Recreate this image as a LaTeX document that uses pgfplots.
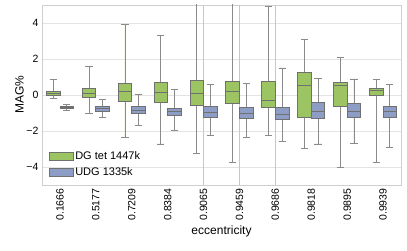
\documentclass[border=0pt]{standalone}
\usepackage{pgfplots}
\pgfplotsset{compat=1.18}
\usepgfplotslibrary{statistics}
\usepackage{fontspec}
\setmainfont{Liberation Sans}
\definecolor{dggreen}{HTML}{9CC462}
\definecolor{udgblue}{HTML}{8D9DC5}
\definecolor{boxgray}{HTML}{707070}
\definecolor{whiskgray}{HTML}{8A8A8A}
\definecolor{hlorange}{HTML}{F2BE86}
\definecolor{gridgray}{HTML}{E3E3E3}
\definecolor{framegray}{HTML}{CFCFCF}
\pgfplotsset{
  dgbox/.style={fill=dggreen, draw=boxgray, line width=0.8pt, solid, mark=none},
  udgbox/.style={fill=udgblue, draw=boxgray, line width=0.8pt, solid, mark=none},
}
\begin{document}
\begin{tikzpicture}
\begin{axis}[
  scale only axis,
  width=359pt, height=180pt,
  xmin=-0.5, xmax=9.5, ymin=-5, ymax=5,
  xtick={0,...,9},
  xticklabels={0.1666,0.5177,0.7209,0.8384,0.9065,0.9459,0.9686,0.9818,0.9895,0.9939},
  xticklabel style={rotate=90, anchor=east, font=\fontsize{10.5}{12}\selectfont},
  extra x ticks={4,5,6},
  extra x tick labels={},
  extra x tick style={grid=major, major grid style={draw=hlorange, line width=1.4pt}},
  ytick={-4,-2,0,2,4},
  yticklabels={−4,−2,0,2,4},
  yticklabel style={font=\fontsize{10.5}{12}\selectfont},
  tick style={draw=none},
  xmajorgrids=false,
  ymajorgrids=true, y grid style={gridgray, line width=0.8pt},
  axis line style={framegray, line width=0.8pt},
  xlabel={eccentricity}, ylabel={MAG\%},
  label style={font=\fontsize{12}{14}\selectfont},
  xlabel style={yshift=2pt},
  ylabel style={yshift=-4pt},
  boxplot/draw direction=y,
  boxplot/box extend=0.38,
  boxplot/whisker extend=0.2,
  boxplot/every whisker/.style={draw=whiskgray, line width=0.8pt},
  legend style={draw=none, fill=none, at={(0.01,0.02)}, anchor=south west,
    font=\fontsize{11}{13}\selectfont, row sep=3pt},
  legend cell align=left,
  clip=true,
]
\addlegendimage{legend image code/.code={\draw[fill=dggreen, draw=boxgray, line width=0.5pt] (0pt,-4pt) rectangle (24pt,4pt);}}
\addlegendentry{DG tet 1447k}
\addlegendimage{legend image code/.code={\draw[fill=udgblue, draw=boxgray, line width=0.5pt] (0pt,-4pt) rectangle (24pt,4pt);}}
\addlegendentry{UDG 1335k}

% DG tet 1447k (green)
\addplot[dgbox, forget plot, boxplot prepared={draw position=-0.19, lower whisker=-0.18, lower quartile=0.00, median=0.10, upper quartile=0.20, upper whisker=0.86}] coordinates {};
\addplot[dgbox, forget plot, boxplot prepared={draw position=0.81, lower whisker=-1.05, lower quartile=-0.16, median=0.10, upper quartile=0.36, upper whisker=1.60}] coordinates {};
\addplot[dgbox, forget plot, boxplot prepared={draw position=1.81, lower whisker=-2.38, lower quartile=-0.33, median=0.18, upper quartile=0.63, upper whisker=3.92}] coordinates {};
\addplot[dgbox, forget plot, boxplot prepared={draw position=2.81, lower whisker=-2.72, lower quartile=-0.40, median=0.14, upper quartile=0.68, upper whisker=3.30}] coordinates {};
\addplot[dgbox, forget plot, boxplot prepared={draw position=3.81, lower whisker=-3.26, lower quartile=-0.60, median=0.07, upper quartile=0.83, upper whisker=6.50}] coordinates {};
\addplot[dgbox, forget plot, boxplot prepared={draw position=4.81, lower whisker=-3.74, lower quartile=-0.49, median=0.20, upper quartile=0.74, upper whisker=6.20}] coordinates {};
\addplot[dgbox, forget plot, boxplot prepared={draw position=5.81, lower whisker=-2.23, lower quartile=-0.70, median=-0.29, upper quartile=0.76, upper whisker=4.93}] coordinates {};
\addplot[dgbox, forget plot, boxplot prepared={draw position=6.81, lower whisker=-2.98, lower quartile=-1.22, median=0.53, upper quartile=1.24, upper whisker=3.09}] coordinates {};
\addplot[dgbox, forget plot, boxplot prepared={draw position=7.81, lower whisker=-4.04, lower quartile=-0.66, median=0.51, upper quartile=0.72, upper whisker=2.10}] coordinates {};
\addplot[dgbox, forget plot, boxplot prepared={draw position=8.81, lower whisker=-3.74, lower quartile=-0.05, median=0.25, upper quartile=0.38, upper whisker=0.87}] coordinates {};

% UDG 1335k (blue)
\addplot[udgbox, forget plot, boxplot prepared={draw position=0.19, lower whisker=-0.87, lower quartile=-0.76, median=-0.71, upper quartile=-0.66, upper whisker=-0.55}] coordinates {};
\addplot[udgbox, forget plot, boxplot prepared={draw position=1.19, lower whisker=-1.24, lower quartile=-0.90, median=-0.76, upper quartile=-0.64, upper whisker=-0.27}] coordinates {};
\addplot[udgbox, forget plot, boxplot prepared={draw position=2.19, lower whisker=-1.69, lower quartile=-1.00, median=-0.83, upper quartile=-0.64, upper whisker=0.05}] coordinates {};
\addplot[udgbox, forget plot, boxplot prepared={draw position=3.19, lower whisker=-1.99, lower quartile=-1.11, median=-0.92, upper quartile=-0.72, upper whisker=0.29}] coordinates {};
\addplot[udgbox, forget plot, boxplot prepared={draw position=4.19, lower whisker=-2.23, lower quartile=-1.22, median=-0.94, upper quartile=-0.66, upper whisker=0.57}] coordinates {};
\addplot[udgbox, forget plot, boxplot prepared={draw position=5.19, lower whisker=-2.36, lower quartile=-1.28, median=-1.00, upper quartile=-0.70, upper whisker=0.63}] coordinates {};
\addplot[udgbox, forget plot, boxplot prepared={draw position=6.19, lower whisker=-2.57, lower quartile=-1.35, median=-1.09, upper quartile=-0.70, upper whisker=1.50}] coordinates {};
\addplot[udgbox, forget plot, boxplot prepared={draw position=7.19, lower whisker=-2.72, lower quartile=-1.30, median=-0.92, upper quartile=-0.40, upper whisker=0.92}] coordinates {};
\addplot[udgbox, forget plot, boxplot prepared={draw position=8.19, lower whisker=-2.70, lower quartile=-1.22, median=-0.92, upper quartile=-0.49, upper whisker=0.89}] coordinates {};
\addplot[udgbox, forget plot, boxplot prepared={draw position=9.19, lower whisker=-2.89, lower quartile=-1.22, median=-0.92, upper quartile=-0.66, upper whisker=0.61}] coordinates {};
\end{axis}
\pgfresetboundingbox
\path ([shift={(-42pt,-66pt)}]current axis.south west) rectangle ([shift={(6pt,5pt)}]current axis.north east);
\end{tikzpicture}
\end{document}
